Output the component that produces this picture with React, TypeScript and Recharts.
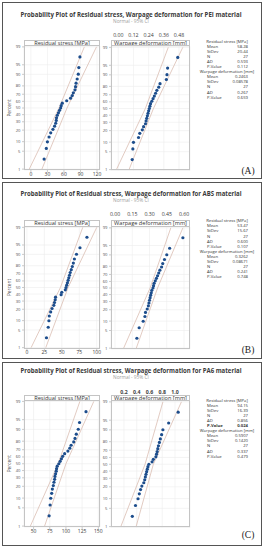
import React from 'react';
import { CartesianGrid, Scatter, ScatterChart, XAxis, YAxis } from 'recharts';

// plotting positions (median ranks) for n = 27, in percent
const PCT = [2.6, 6.2, 9.9, 13.5, 17.2, 20.8, 24.5, 28.1, 31.8, 35.4, 39.1, 42.7, 46.4, 50.0, 53.6, 57.3, 60.9, 64.6, 68.2, 71.9, 75.5, 79.2, 82.8, 86.5, 90.1, 93.8, 97.4];
const PCT_TICKS = [1, 5, 10, 20, 30, 40, 50, 60, 70, 80, 90, 95, 99];
const BAND_PCT = [1, 50, 99];

// PEI
const peiStress = [24, 28, 30, 33, 36, 40, 43, 45, 46, 46.5, 48, 50, 52, 54, 55, 57, 65, 72, 75, 77, 80, 81, 82, 84, 86, 87, 89];
const peiWarp = [0.11, 0.115, 0.12, 0.16, 0.17, 0.19, 0.2, 0.215, 0.22, 0.225, 0.23, 0.235, 0.24, 0.245, 0.25, 0.255, 0.265, 0.275, 0.285, 0.295, 0.305, 0.32, 0.33, 0.38, 0.385, 0.39, 0.47];
const peiStressLo = [-3, 51, 97];
const peiStressHi = [20, 65.5, 119];
const peiWarpLo = [-0.015, 0.214, 0.395];
const peiWarpHi = [0.085, 0.278, 0.51];

// ABS
const absStress = [28, 30.5, 31.5, 32, 34, 36, 38.5, 39.5, 40.5, 41, 49, 50, 55, 56, 57, 58, 59, 60, 61, 62, 63.5, 65, 66.5, 68, 71, 76, 86];
const absWarp = [0.19, 0.21, 0.245, 0.26, 0.265, 0.28, 0.29, 0.295, 0.3, 0.305, 0.31, 0.315, 0.32, 0.33, 0.335, 0.34, 0.35, 0.36, 0.37, 0.38, 0.39, 0.405, 0.415, 0.43, 0.45, 0.475, 0.59];
const absStressLo = [6, 48, 80];
const absStressHi = [27, 59, 100];
const absWarpLo = [0.075, 0.305, 0.485];
const absWarpHi = [0.185, 0.37, 0.59];

// PA6
const pa6Stress = [74, 75.5, 76.5, 78, 79, 80.5, 81.5, 82.5, 83, 84, 85, 85.5, 86.5, 89, 91, 93, 95, 98, 103, 106, 108, 112, 114, 116, 119, 121, 131];
const pa6Warp = [0.33, 0.38, 0.42, 0.44, 0.46, 0.48, 0.51, 0.525, 0.535, 0.545, 0.555, 0.565, 0.575, 0.59, 0.64, 0.66, 0.7, 0.71, 0.72, 0.73, 0.74, 0.755, 0.77, 0.79, 0.81, 0.9, 1.05];
const pa6StressLo = [45, 88, 121.5];
const pa6StressHi = [67, 100, 143];
const pa6WarpLo = [0.15, 0.53, 0.81];
const pa6WarpHi = [0.39, 0.66, 1.1];

// axis ticks
const peiStressTicks = [0, 30, 60, 90, 120];
const peiWarpTicks = [0, 0.12, 0.24, 0.36, 0.48];
const absStressTicks = [0, 25, 50, 75, 100];
const absWarpTicks = [0, 0.15, 0.3, 0.45, 0.6];
const pa6StressTicks = [50, 75, 100, 125, 150];
const pa6WarpTicks = [0.2, 0.4, 0.6, 0.8, 1.0];

// summary tables
const statLabels = ['Mean', 'StDev', 'N', 'AD', 'P-Value'];
const peiStressStats = ['58.28', '20.44', '27', '0.593', '0.112'];
const peiWarpStats = ['0.2463', '0.08578', '27', '0.267', '0.659'];
const absStressStats = ['53.47', '15.67', '27', '0.600', '0.107'];
const absWarpStats = ['0.3262', '0.08671', '27', '0.241', '0.748'];
const pa6StressStats = ['94.15', '16.39', '27', '0.856', '0.024'];
const pa6WarpStats = ['0.5907', '0.1420', '27', '0.337', '0.479'];

const DOT = '#1d4d8c';
const BAND = '#d8b9ae';
const GRID = '#ededed';
const FRAME = '#c4c4c4';

// inverse normal cdf (Acklam) for the probability scale
function probit(p: number): number {
  const a = [-39.69683028665376, 220.9460984245205, -275.9285104469687, 138.357751867269, -30.66479806614716, 2.506628277459239];
  const b = [-54.47609879822406, 161.5858368580409, -155.6989798598866, 66.80131188771972, -13.28068155288572];
  const c = [-0.007784894002430293, -0.3223964580411365, -2.400758277161838, -2.549732539343734, 4.374664141464968, 2.938163982698783];
  const d = [0.007784695709041462, 0.3224671290700398, 2.445134137142996, 3.754408661907416];
  const pl = 0.02425;
  if (p < pl) {
    const q = Math.sqrt(-2 * Math.log(p));
    return (((((c[0] * q + c[1]) * q + c[2]) * q + c[3]) * q + c[4]) * q + c[5]) / ((((d[0] * q + d[1]) * q + d[2]) * q + d[3]) * q + 1);
  }
  if (p > 1 - pl) {
    const q = Math.sqrt(-2 * Math.log(1 - p));
    return -(((((c[0] * q + c[1]) * q + c[2]) * q + c[3]) * q + c[4]) * q + c[5]) / ((((d[0] * q + d[1]) * q + d[2]) * q + d[3]) * q + 1);
  }
  const q = p - 0.5;
  const r = q * q;
  return ((((((a[0] * r + a[1]) * r + a[2]) * r + a[3]) * r + a[4]) * r + a[5]) * q) / (((((b[0] * r + b[1]) * r + b[2]) * r + b[3]) * r + b[4]) * r + 1);
}

const Z_TICKS = PCT_TICKS.map((q) => probit(q / 100));
const pctLabel = (z: number) => {
  const i = Z_TICKS.findIndex((t) => Math.abs(t - z) < 1e-6);
  return i >= 0 ? String(PCT_TICKS[i]) : '';
};

interface PlotProps {
  frameL: number;
  frameR: number;
  stripTop: number;
  dataTop: number;
  dataBottom: number;
  domain: [number, number];
  ticks: number[];
  fmt: (v: number) => string;
  topAxis?: boolean;
  labelY?: number;
  boldTicks?: boolean;
  values: number[];
  lo: number[];
  hi: number[];
  header: string;
}

function ProbPlot(p: PlotProps) {
  const yAxisW = 14;
  const padR = 6;
  const left = p.frameL - yAxisW;
  const top = p.topAxis ? (p.labelY as number) - 6 : p.stripTop;
  const width = p.frameR - left + padR;
  const height = p.dataBottom - top + (p.topAxis ? 1 : 10);
  const pts = p.values.map((v, i) => ({ x: v, z: probit(PCT[i] / 100) }));
  const loPts = BAND_PCT.map((q, i) => ({ x: p.lo[i], z: probit(q / 100) }));
  const hiPts = BAND_PCT.map((q, i) => ({ x: p.hi[i], z: probit(q / 100) }));

  return (
    <>
      <div style={{ position: 'absolute', left, top, width, height }}>
        <ScatterChart
          width={width}
          height={height}
          margin={{ top: p.topAxis ? 0 : p.dataTop - p.stripTop, right: padR, bottom: p.topAxis ? 1 : 0, left: 0 }}
        >
          <CartesianGrid stroke={GRID} strokeWidth={0.6} />
          {p.topAxis ? (
            <XAxis
              type="number"
              dataKey="x"
              orientation="top"
              domain={p.domain}
              allowDataOverflow
              ticks={p.ticks}
              interval={0}
              height={p.dataTop - top}
              axisLine={false}
              tickLine={false}
              tick={(t: any) => (
                <text
                  x={t.x}
                  y={(p.labelY as number) - top + 1.8}
                  textAnchor="middle"
                  fontSize={5.2}
                  fontWeight={p.boldTicks ? 700 : 400}
                  fill="#3c3c3c"
                >
                  {p.fmt(t.payload.value)}
                </text>
              )}
            />
          ) : (
            <XAxis
              type="number"
              dataKey="x"
              domain={p.domain}
              allowDataOverflow
              ticks={p.ticks}
              interval={0}
              height={10}
              axisLine={false}
              tickSize={2}
              tickMargin={0}
              tickLine={{ stroke: '#999', strokeWidth: 0.5 }}
              tick={{ fontSize: 5, fill: '#3c3c3c' }}
              tickFormatter={p.fmt}
            />
          )}
          <YAxis
            type="number"
            dataKey="z"
            domain={[-2.36, 2.36]}
            allowDataOverflow
            ticks={Z_TICKS}
            interval={0}
            width={yAxisW}
            axisLine={false}
            tickSize={2}
            tickMargin={1.5}
            tickLine={{ stroke: '#999', strokeWidth: 0.5 }}
            tick={{ fontSize: 4.2, fill: '#555' }}
            tickFormatter={pctLabel}
          />
          <Scatter data={loPts} line={{ stroke: BAND, strokeWidth: 0.75 }} shape={() => <g />} isAnimationActive={false} />
          <Scatter data={hiPts} line={{ stroke: BAND, strokeWidth: 0.75 }} shape={() => <g />} isAnimationActive={false} />
          <Scatter
            data={pts}
            fill={DOT}
            shape={(s: any) => <circle cx={s.cx} cy={s.cy} r={1.6} fill={DOT} />}
            isAnimationActive={false}
          />
        </ScatterChart>
      </div>
      <div
        style={{
          position: 'absolute',
          left: p.frameL,
          top: p.stripTop,
          width: p.frameR - p.frameL,
          height: p.dataBottom - p.stripTop,
          border: `0.8px solid ${FRAME}`,
          boxSizing: 'border-box',
          pointerEvents: 'none',
        }}
      />
      <div
        style={{
          position: 'absolute',
          left: p.frameL,
          top: p.stripTop,
          width: p.frameR - p.frameL,
          height: p.dataTop - p.stripTop,
          border: `0.8px solid ${FRAME}`,
          boxSizing: 'border-box',
          background: '#fff',
          color: '#333',
          fontSize: 5.6,
          lineHeight: `${p.dataTop - p.stripTop - 1}px`,
          textAlign: 'center',
          whiteSpace: 'nowrap',
          overflow: 'hidden',
        }}
      >
        {p.header}
      </div>
    </>
  );
}

interface PanelDef {
  tag: string;
  material: string;
  boxTop: number;
  boxBottom: number;
  titleY: number;
  subY: number;
  labelY: number;
  stripTop: number;
  dataTop: number;
  dataBottom: number;
  statsY: number;
  tagY: number;
  stress: number[];
  warp: number[];
  stressLo: number[];
  stressHi: number[];
  warpLo: number[];
  warpHi: number[];
  stressDomain: [number, number];
  warpDomain: [number, number];
  stressTicks: number[];
  warpTicks: number[];
  warpFmt: (v: number) => string;
  boldTicks?: boolean;
  stressStats: string[];
  warpStats: string[];
  boldP?: boolean;
}

const panels: PanelDef[] = [
  {
    tag: '(A)', material: 'PEI', boxTop: 2.5, boxBottom: 178.5, titleY: 17, subY: 23, labelY: 34.5,
    stripTop: 40, dataTop: 46, dataBottom: 170, statsY: 42.5, tagY: 173.5,
    stress: peiStress, warp: peiWarp, stressLo: peiStressLo, stressHi: peiStressHi, warpLo: peiWarpLo, warpHi: peiWarpHi,
    stressDomain: [-12.5, 125.4], warpDomain: [-0.0577, 0.567],
    stressTicks: peiStressTicks, warpTicks: peiWarpTicks, warpFmt: (v) => v.toFixed(2),
    stressStats: peiStressStats, warpStats: peiWarpStats,
  },
  {
    tag: '(B)', material: 'ABS', boxTop: 182.5, boxBottom: 358.5, titleY: 196, subY: 202, labelY: 213.5,
    stripTop: 220, dataTop: 226.5, dataBottom: 348.5, statsY: 222.2, tagY: 353,
    stress: absStress, warp: absWarp, stressLo: absStressLo, stressHi: absStressHi, warpLo: absWarpLo, warpHi: absWarpHi,
    stressDomain: [-4.2, 104.7], warpDomain: [-0.035, 0.652],
    stressTicks: absStressTicks, warpTicks: absWarpTicks, warpFmt: (v) => v.toFixed(2),
    stressStats: absStressStats, warpStats: absWarpStats,
  },
  {
    tag: '(C)', material: 'PA6', boxTop: 362.5, boxBottom: 545.5, titleY: 373, subY: 379, labelY: 391.5,
    stripTop: 395, dataTop: 400.5, dataBottom: 527, statsY: 401.5, tagY: 537.5,
    stress: pa6Stress, warp: pa6Warp, stressLo: pa6StressLo, stressHi: pa6StressHi, warpLo: pa6WarpLo, warpHi: pa6WarpHi,
    stressDomain: [35.2, 152.6], warpDomain: [-0.004, 1.235],
    stressTicks: pa6StressTicks, warpTicks: pa6WarpTicks, warpFmt: (v) => v.toFixed(1), boldTicks: true,
    stressStats: pa6StressStats, warpStats: pa6WarpStats, boldP: true,
  },
];

function StatsBlock({ y, stress, warp, boldP }: { y: number; stress: string[]; warp: string[]; boldP?: boolean }) {
  const step = 5.1;
  const rows: React.ReactNode[] = [];
  const block = (title: string, vals: string[], y0: number, bold: boolean) => {
    rows.push(
      <text key={title} x={227} y={y0} textAnchor="middle" fontSize={4.2} fill="#333">
        {title}
      </text>
    );
    statLabels.forEach((lab, i) => {
      const yy = y0 + step * (i + 1);
      const w = bold && lab === 'P-Value' ? 700 : 400;
      rows.push(
        <text key={title + lab} x={207} y={yy} fontSize={4.2} fill="#333" fontWeight={w}>
          {lab}
        </text>,
        <text key={title + lab + 'v'} x={248} y={yy} textAnchor="end" fontSize={4.2} fill="#333" fontWeight={w}>
          {vals[i]}
        </text>
      );
    });
  };
  block('Residual stress [MPa]', stress, y, !!boldP);
  block('Warpage deformation [mm]', warp, y + step * 6, false);
  return <>{rows}</>;
}

export default function App() {
  return (
    <div
      style={{
        position: 'absolute',
        left: 0,
        top: 0,
        width: 264,
        height: 550,
        background: '#fff',
        overflow: 'hidden',
        fontFamily: "'Open Sans', 'Noto Sans', sans-serif",
      }}
    >
      {panels.map((pn) => (
        <React.Fragment key={pn.tag}>
          <ProbPlot
            frameL={24}
            frameR={100}
            stripTop={pn.stripTop}
            dataTop={pn.dataTop}
            dataBottom={pn.dataBottom}
            domain={pn.stressDomain}
            ticks={pn.stressTicks}
            fmt={(v) => String(v)}
            values={pn.stress}
            lo={pn.stressLo}
            hi={pn.stressHi}
            header="Residual stress [MPa]"
          />
          <ProbPlot
            frameL={111}
            frameR={190}
            stripTop={pn.stripTop}
            dataTop={pn.dataTop}
            dataBottom={pn.dataBottom}
            domain={pn.warpDomain}
            ticks={pn.warpTicks}
            fmt={pn.warpFmt}
            topAxis
            labelY={pn.labelY}
            boldTicks={pn.boldTicks}
            values={pn.warp}
            lo={pn.warpLo}
            hi={pn.warpHi}
            header="Warpage deformation [mm]"
          />
        </React.Fragment>
      ))}
      <svg width={264} height={550} style={{ position: 'absolute', left: 0, top: 0, pointerEvents: 'none' }}>
        {panels.map((pn) => {
          const mid = (pn.dataTop + pn.dataBottom) / 2;
          return (
            <g key={pn.tag}>
              <rect x={2.5} y={pn.boxTop} width={259} height={pn.boxBottom - pn.boxTop} fill="none" stroke="#555" strokeWidth={1} />
              <text
                x={131}
                y={pn.titleY}
                textAnchor="middle"
                fontSize={6.3}
                fontWeight={700}
                fill="#3a3a3a"
                textLength={221}
                lengthAdjust="spacingAndGlyphs"
              >
                {`Probability Plot of Residual stress, Warpage deformation for ${pn.material} material`}
              </text>
              <text x={131} y={pn.subY} textAnchor="middle" fontSize={4.8} fill="#a0a0a0">
                Normal - 95% CI
              </text>
              <text
                x={11}
                y={mid}
                transform={`rotate(-90 11 ${mid})`}
                textAnchor="middle"
                fontSize={4.8}
                fill="#444"
              >
                Percent
              </text>
              <StatsBlock y={pn.statsY} stress={pn.stressStats} warp={pn.warpStats} boldP={pn.boldP} />
              <text x={248} y={pn.tagY} textAnchor="middle" fontSize={9.5} fill="#222" fontFamily="'Liberation Serif', serif">
                {pn.tag}
              </text>
            </g>
          );
        })}
      </svg>
    </div>
  );
}
